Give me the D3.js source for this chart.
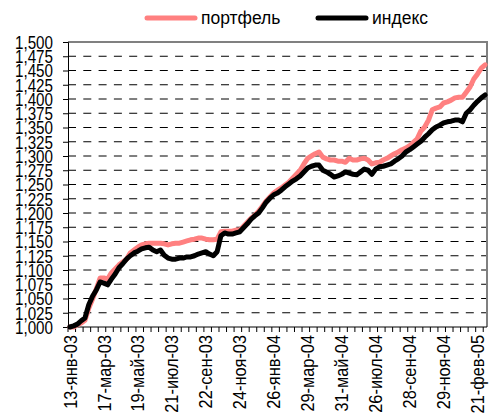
<!DOCTYPE html>
<html>
<head>
<meta charset="utf-8">
<script src="https://cdn.jsdelivr.net/npm/d3@7"></script>
<style>
  body { margin: 0; background: #fff; }
  text { font-family: "Liberation Sans", Arial, sans-serif; }
</style>
</head>
<body>
<div id="chart"></div>
<script>
(function () {
  // weekly points, 13-янв-03 .. early March 2005
  const portfolio = [
    1.000, 1.000, 1.004, 1.007, 1.012, 1.033, 1.049, 1.067, 1.086, 1.086,
    1.084, 1.095, 1.102, 1.109, 1.114, 1.119, 1.130, 1.135, 1.140, 1.144,
    1.146, 1.147, 1.147, 1.147, 1.147, 1.146, 1.144, 1.146, 1.147, 1.147,
    1.149, 1.151, 1.153, 1.154, 1.156, 1.156, 1.154, 1.153, 1.153, 1.154,
    1.167, 1.168, 1.168, 1.168, 1.170, 1.170, 1.177, 1.184, 1.191, 1.196,
    1.203, 1.212, 1.221, 1.228, 1.235, 1.240, 1.244, 1.249, 1.254, 1.261,
    1.268, 1.275, 1.286, 1.296, 1.300, 1.304, 1.307, 1.298, 1.295, 1.293,
    1.293, 1.291, 1.291, 1.289, 1.296, 1.293, 1.293, 1.295, 1.296, 1.293,
    1.286, 1.288, 1.289, 1.293, 1.296, 1.300, 1.304, 1.307, 1.311, 1.314,
    1.318, 1.324, 1.330, 1.344, 1.351, 1.363, 1.381, 1.384, 1.386, 1.393,
    1.395, 1.398, 1.402, 1.403, 1.403, 1.412, 1.421, 1.435, 1.444, 1.454,
    1.460
  ];
  const index = [
    1.000, 1.002, 1.005, 1.011, 1.016, 1.039, 1.054, 1.065, 1.079, 1.077,
    1.074, 1.084, 1.093, 1.104, 1.111, 1.119, 1.125, 1.130, 1.133, 1.137,
    1.139, 1.140, 1.135, 1.132, 1.135, 1.126, 1.121, 1.119, 1.119, 1.121,
    1.121, 1.123, 1.123, 1.125, 1.128, 1.130, 1.132, 1.128, 1.125, 1.132,
    1.160, 1.165, 1.163, 1.163, 1.165, 1.167, 1.174, 1.181, 1.189, 1.195,
    1.200, 1.209, 1.219, 1.226, 1.232, 1.235, 1.240, 1.246, 1.251, 1.256,
    1.260, 1.265, 1.272, 1.279, 1.282, 1.284, 1.284, 1.275, 1.272, 1.268,
    1.263, 1.265, 1.268, 1.272, 1.270, 1.268, 1.267, 1.272, 1.277, 1.275,
    1.268, 1.277, 1.281, 1.282, 1.284, 1.286, 1.291, 1.295, 1.300, 1.307,
    1.311, 1.316, 1.321, 1.326, 1.333, 1.339, 1.346, 1.351, 1.354, 1.358,
    1.360, 1.361, 1.363, 1.363, 1.360, 1.375, 1.381, 1.389, 1.396, 1.402,
    1.407
  ];
  // a date label every 9th week
  const dateLabels = [
    "13-янв-03", "17-мар-03", "19-май-03", "21-июл-03", "22-сен-03",
    "24-ноя-03", "26-янв-04", "29-мар-04", "31-май-04", "26-июл-04",
    "28-сен-04", "29-ноя-04", "21-фев-05"
  ];
  const labelStep = 9;
  const yTicks = d3.range(1.000, 1.5001, 0.025);
  const seriesNames = ["портфель", "индекс"];
  const seriesColors = ["#ff8080", "#000000"];

  const width = 493;
  const height = 414;
  const left = 68, right = 487, top = 42, bottom = 327;

  const svg = d3.select("#chart")
    .append("svg")
    .attr("width", width)
    .attr("height", height);

  const x = d3.scaleBand()
    .domain(d3.range(portfolio.length))
    .range([left, right]);
  const y = d3.scaleLinear()
    .domain([1.0, 1.5])
    .range([bottom, top]);

  const ruFormat = d3.formatLocale({
    decimal: ",", thousands: " ", grouping: [3], currency: ["", ""]
  }).format(".3f");

  // пунктирная сетка
  svg.append("g")
    .selectAll("line")
    .data(yTicks.slice(1, -1))
    .enter()
    .append("line")
    .attr("x1", left)
    .attr("x2", right)
    .attr("y1", d => y(d))
    .attr("y2", d => y(d))
    .attr("stroke", "#000")
    .attr("stroke-width", 1)
    .attr("stroke-dasharray", "8,7.3");

  // рамка области построения
  svg.append("path")
    .attr("d", `M${left},${top}H${right}V${bottom}`)
    .attr("fill", "none")
    .attr("stroke", "#808080")
    .attr("stroke-width", 2);

  // ось Y (подписи узкие, как Arial Narrow)
  const yAxis = svg.append("g")
    .attr("transform", `translate(${left},0)`)
    .call(d3.axisLeft(y).tickValues(yTicks).tickFormat("").tickSize(5));
  yAxis.select(".domain").attr("stroke", "#000");

  svg.append("g")
    .selectAll("text")
    .data(yTicks)
    .enter()
    .append("text")
    .attr("transform", d => `translate(${left - 15},${y(d)}) scale(0.8,1)`)
    .attr("text-anchor", "end")
    .attr("dy", "0.36em")
    .style("font-size", "19px")
    .text(d => ruFormat(d));

  // ось X
  const xAxis = svg.append("g")
    .attr("transform", `translate(0,${bottom})`);
  xAxis.append("line")
    .attr("x1", left).attr("x2", right)
    .attr("stroke", "#000");
  xAxis.selectAll("line.tick")
    .data(d3.range(0, portfolio.length + 1, 2))
    .enter()
    .append("line")
    .attr("class", "tick")
    .attr("x1", d => left + d * x.step())
    .attr("x2", d => left + d * x.step())
    .attr("y1", 0)
    .attr("y2", 5)
    .attr("stroke", "#000");
  xAxis.selectAll("text")
    .data(dateLabels)
    .enter()
    .append("text")
    .attr("transform", (d, i) =>
      `translate(${x(i * labelStep) + x.bandwidth() / 2},8) rotate(-90) scale(0.86,1)`)
    .attr("text-anchor", "end")
    .attr("dy", "0.35em")
    .style("font-size", "19px")
    .text(d => d);

  // линии
  const line = d3.line()
    .x((d, i) => x(i) + x.bandwidth() / 2)
    .y(d => y(d));

  [portfolio, index].forEach((series, k) => {
    svg.append("path")
      .datum(series)
      .attr("fill", "none")
      .attr("stroke", seriesColors[k])
      .attr("stroke-width", 5)
      .attr("stroke-linejoin", "round")
      .attr("stroke-linecap", "round")
      .attr("d", line);
  });

  // легенда
  const legendX = [147, 318];
  const legend = svg.append("g");
  seriesNames.forEach((name, k) => {
    legend.append("line")
      .attr("x1", legendX[k]).attr("x2", legendX[k] + 48)
      .attr("y1", 18).attr("y2", 18)
      .attr("stroke", seriesColors[k])
      .attr("stroke-width", 5)
      .attr("stroke-linecap", "round");
    legend.append("text")
      .attr("x", legendX[k] + 54)
      .attr("y", 18)
      .attr("dy", "0.35em")
      .style("font-size", "17.5px")
      .text(name);
  });
})();
</script>
</body>
</html>
